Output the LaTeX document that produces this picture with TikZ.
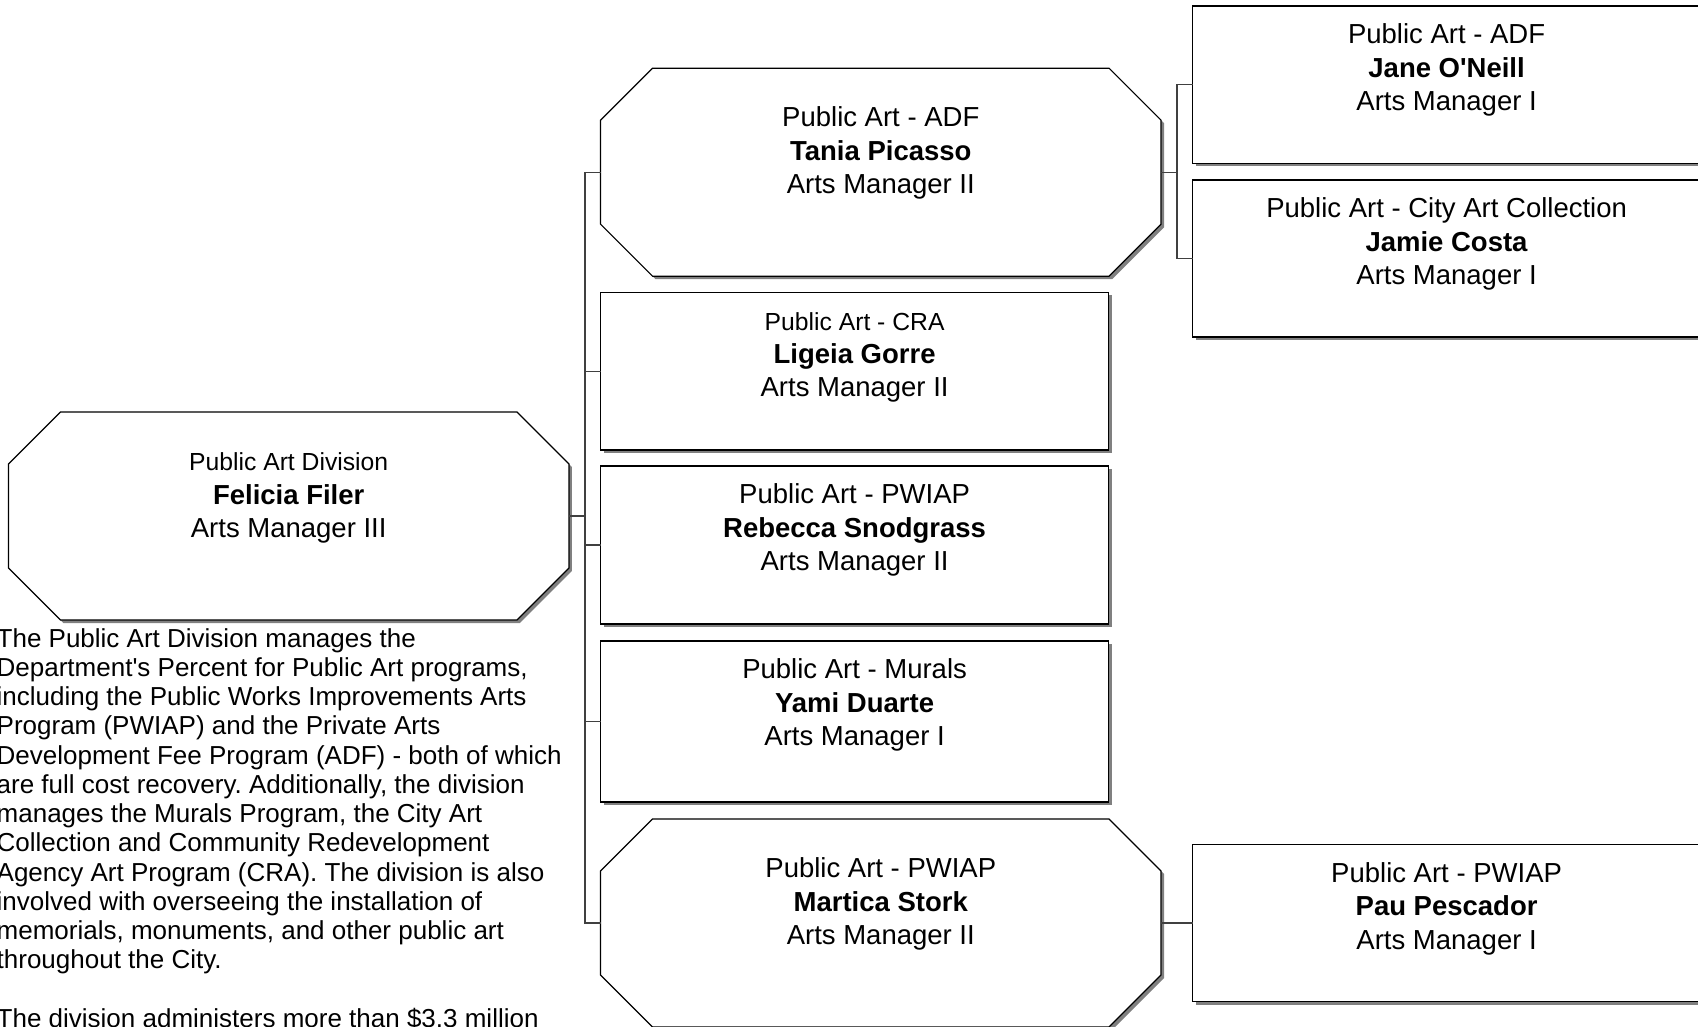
\documentclass[tikz,border=0pt]{standalone}
\usepackage{fontspec}
\setmainfont{Liberation Sans}[Ligatures=TeXOff]
\usetikzlibrary{calc,positioning,shadows}
\frenchspacing
\newcommand\smallfirst{\fontsize{24.7pt}{33.4pt}\selectfont}
\newcommand\normalbox{\fontsize{27.5pt}{33.4pt}\selectfont}
\newcommand\firststrut{\rule{0pt}{22pt}}
\newcommand\octpath[3]{($(#1.north west)+(52+#2,#3)$) -- ($(#1.north east)+(-52+#2,#3)$) -- ($(#1.north east)+(#2,52+#3)$) -- ($(#1.south east)+(#2,-52+#3)$) -- ($(#1.south east)+(-52+#2,#3)$) -- ($(#1.south west)+(52+#2,#3)$) -- ($(#1.south west)+(#2,-52+#3)$) -- ($(#1.north west)+(#2,52+#3)$) -- cycle}
\begin{document}
\begin{tikzpicture}[x=1pt,y=-1pt,
  rbox/.style={draw=black, line width=1.2pt, fill=white, minimum width=507.8pt, inner sep=0pt, outer sep=0pt,
    drop shadow={shadow xshift=3pt, shadow yshift=-3pt, fill=black!50, opacity=1}},
  obox/.style={draw=none, minimum width=560.5pt, minimum height=208pt, inner sep=0pt, outer sep=0pt},
  txt/.style={align=center, inner sep=0pt, font=\normalbox},
  para/.style={align=left, inner sep=0pt, font={\fontsize{26pt}{29.25pt}\selectfont}},
  conn/.style={draw=black!75, line width=1.1pt},
  octshadow/.style={fill=black!50},
  octline/.style={draw=black, line width=1.2pt, fill=white},
]
\useasboundingbox (0,0) rectangle (1698,1026);
\clip (0,0) rectangle (1698,1026);
\fill[white] (0,0) rectangle (1698,1026);

% octagon nodes (outline drawn below)
\node[obox] (fel) at (288.7,516) {};
\node[obox] (tan) at (880.8,172.2) {};
\node[obox] (mar) at (880.8,923) {};
\foreach \n in {fel,tan,mar}{
  \fill[octshadow] \octpath{\n}{3}{3};
  \filldraw[octline] \octpath{\n}{0}{0};
}

% rectangle nodes
\node[rbox, minimum height=157.5pt] (cra) at (854.6,371.2) {};
\node[rbox, minimum height=158pt] (reb) at (854.6,545) {};
\node[rbox, minimum height=161pt] (mur) at (854.6,721.4) {};
\node[rbox, minimum height=157.3pt] (jan) at (1446.6,84.7) {};
\node[rbox, minimum height=157pt] (jam) at (1446.6,258.5) {};
\node[rbox, minimum height=157pt] (pau) at (1446.6,923) {};

% texts
\node[txt, below=36.5pt of fel.north] (feltext) {{\smallfirst\firststrut Public Art Division}\\\textbf{Felicia Filer}\\Arts Manager III};
\node[txt, below=36.5pt of tan.north] (tantext) {\firststrut Public Art - ADF\\\textbf{Tania Picasso}\\Arts Manager II};
\node[txt, below=36.5pt of mar.north] (martext) {\firststrut Public Art - PWIAP\\\textbf{Martica Stork}\\Arts Manager II};
\node[txt, below=15.5pt of cra.north] (cratext) {{\smallfirst\firststrut Public Art - CRA}\\\textbf{Ligeia Gorre}\\Arts Manager II};
\node[txt, below=15.5pt of reb.north] (rebtext) {\firststrut Public Art - PWIAP\\\textbf{Rebecca Snodgrass}\\Arts Manager II};
\node[txt, below=15.5pt of mur.north] (murtext) {\firststrut Public Art - Murals\\\textbf{Yami Duarte}\\Arts Manager I};
\node[txt, below=15.5pt of jan.north] (jantext) {\firststrut Public Art - ADF\\\textbf{Jane O'Neill}\\Arts Manager I};
\node[txt, below=15.5pt of jam.north] (jamtext) {\firststrut Public Art - City Art Collection\\\textbf{Jamie Costa}\\Arts Manager I};
\node[txt, below=15.5pt of pau.north] (pautext) {\firststrut Public Art - PWIAP\\\textbf{Pau Pescador}\\Arts Manager I};

% description
\node[para, anchor=north west] (desc) at (-3.5,625) {\firststrut The Public Art Division manages the\\
Department's Percent for Public Art programs,\\
including the Public Works Improvements Arts\\
Program (PWIAP) and the Private Arts\\
Development Fee Program (ADF) - both of which\\
are full cost recovery. Additionally, the division\\
manages the Murals Program, the City Art\\
Collection and Community Redevelopment\\
Agency Art Program (CRA). The division is also\\
involved with overseeing the installation of\\
memorials, monuments, and other public art\\
throughout the City.\\
\mbox{}\\
The division administers more than \$3.3 million};

% connectors
\coordinate (busx) at (585,0);
\coordinate (subx) at (1177,0);
\draw[conn] (fel.east) -- (fel.east -| busx);
\draw[conn] (tan.west) -| (busx |- mar.west) -- (mar.west);
\foreach \n in {cra,reb,mur}{
  \draw[conn] (\n.west) -- (\n.west -| busx);
}
\draw[conn] (tan.east) -- (tan.east -| subx);
\draw[conn] (jan.west) -| (subx |- jam.west) -- (jam.west);
\draw[conn] (mar.east) -- (pau.west);
\end{tikzpicture}
\end{document}
